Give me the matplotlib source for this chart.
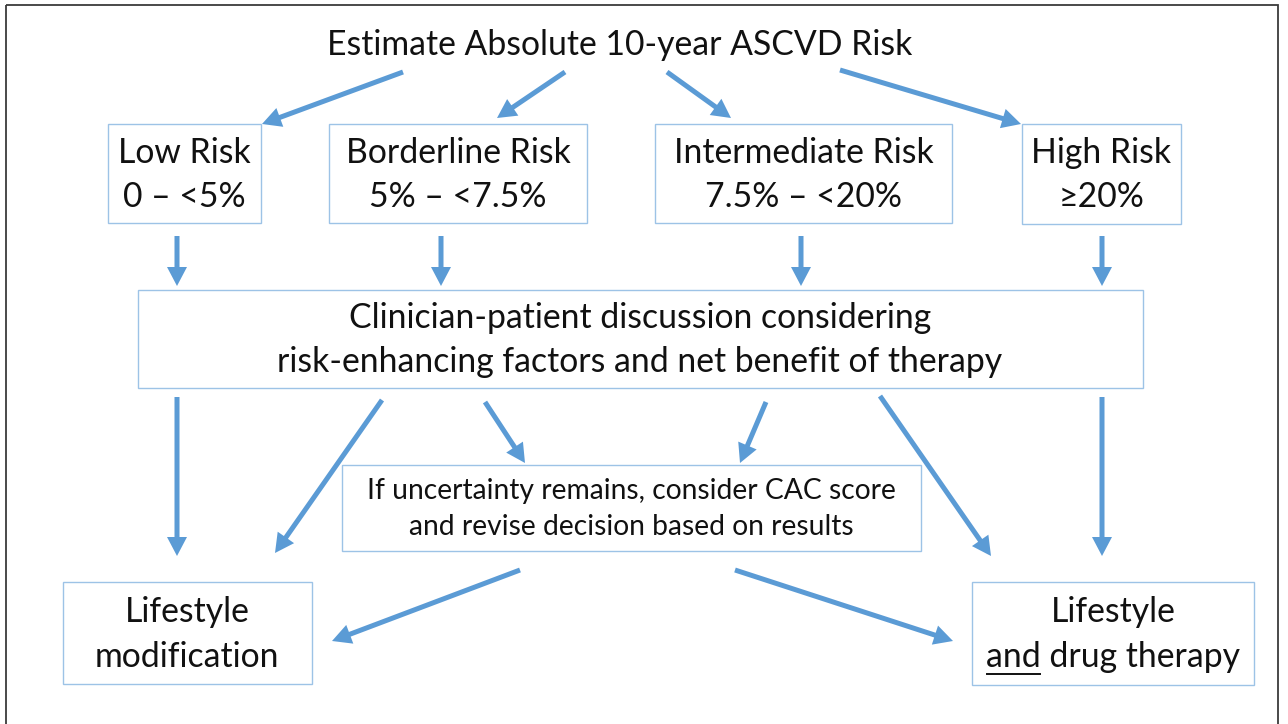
import matplotlib
matplotlib.use("Agg")
import matplotlib.pyplot as plt
from matplotlib.patches import Rectangle

FONT = ['Lato', 'DejaVu Sans']

# ---- content ----
title_text = "Estimate Absolute 10-year ASCVD Risk"
risk_lines = [["Low Risk", "0 – <5%"],
              ["Borderline Risk", "5% – <7.5%"],
              ["Intermediate Risk", "7.5% – <20%"],
              ["High Risk", "≥20%"]]
discussion_lines = ["Clinician-patient discussion considering",
                    "risk-enhancing factors and net benefit of therapy"]
cac_lines = ["If uncertainty remains, consider CAC score",
             "and revise decision based on results"]
lifestyle_lines = ["Lifestyle", "modification"]
drug_line1 = "Lifestyle"
drug_underlined = "and"
drug_rest = " drug therapy"

# ---- layout (pixel coordinates, y downward) ----
risk_boxes = [(108, 124, 261, 223), (329, 124, 587, 223),
              (655, 124, 952, 223), (1022, 124, 1181, 224)]
disc_box = (138, 290, 1143, 388)
cac_box = (342, 465, 921, 551)
life_box = (63, 582, 312, 684)
drug_box = (972, 582, 1254, 685)

arrows = [
    ((403, 72), (262, 124)),
    ((565, 72), (497, 118)),
    ((667, 72), (731, 118)),
    ((840, 70), (1021, 124)),
    ((177, 236), (177, 286)),
    ((441, 236), (441, 286)),
    ((801, 236), (801, 286)),
    ((1102, 236), (1102, 286)),
    ((177, 397), (177, 556)),
    ((382, 400), (275, 553)),
    ((485, 402), (525, 463)),
    ((766, 402), (740, 463)),
    ((880, 396), (991, 556)),
    ((1102, 397), (1102, 556)),
    ((520, 570), (332, 641)),
    ((735, 570), (953, 641)),
]

ARROW_C = '#5B9BD5'
BOX_C = '#9DC3E6'
TXT_C = '#111111'
FS = 24.3
FS_SMALL = 20.3

W, H = 1288, 724
fig = plt.figure(figsize=(W / 100, H / 100), dpi=100)
ax = fig.add_axes([0, 0, 1, 1])
ax.set_xlim(0, W)
ax.set_ylim(H, 0)
ax.axis('off')

# outer frame
ax.add_patch(Rectangle((6, 5), 1272, 730, fill=False, ec='#3a3a3a', lw=1.3))


def box(b):
    x0, y0, x1, y1 = b
    ax.add_patch(Rectangle((x0, y0), x1 - x0, y1 - y0, fill=False,
                           ec=BOX_C, lw=1.0))


def lines(xc, ys, texts, fs=FS):
    for y, t in zip(ys, texts):
        ax.text(xc, y, t, ha='center', va='center', fontsize=fs,
                family=FONT, color=TXT_C)


ax.text(620, 45, title_text, ha='center', va='center', fontsize=FS,
        family=FONT, color=TXT_C)

for b, ls in zip(risk_boxes, risk_lines):
    box(b)
    lines((b[0] + b[2]) / 2, [153, 197], ls)

box(disc_box)
lines(640, [318, 362], discussion_lines)

box(cac_box)
lines(631, [491, 527], cac_lines, FS_SMALL)

box(life_box)
lines(187, [612, 657], lifestyle_lines)

box(drug_box)
xc = (drug_box[0] + drug_box[2]) / 2
lines(xc, [612], [drug_line1])
full = ax.text(xc, 657, drug_underlined + drug_rest, ha='center',
               va='center', fontsize=FS, family=FONT, color=TXT_C)

for (x0, y0), (x1, y1) in arrows:
    ax.arrow(x0, y0, x1 - x0, y1 - y0, width=5, head_width=20,
             head_length=19, length_includes_head=True, color=ARROW_C,
             lw=0)

# underline "and"
fig.canvas.draw()
r = fig.canvas.get_renderer()
ext = full.get_window_extent(r)
probe = ax.text(0, 0, drug_underlined, fontsize=FS, family=FONT)
pw = probe.get_window_extent(r).width
probe.remove()
inv = ax.transData.inverted()
pts = inv.transform([(ext.x0, ext.y0), (ext.x0 + pw, ext.y0)])
lx, rx = pts[0][0], pts[1][0]
ax.plot([lx + 1, rx - 1], [674, 674], color=TXT_C, lw=1.4)

fig.savefig('out.png', dpi=100)
